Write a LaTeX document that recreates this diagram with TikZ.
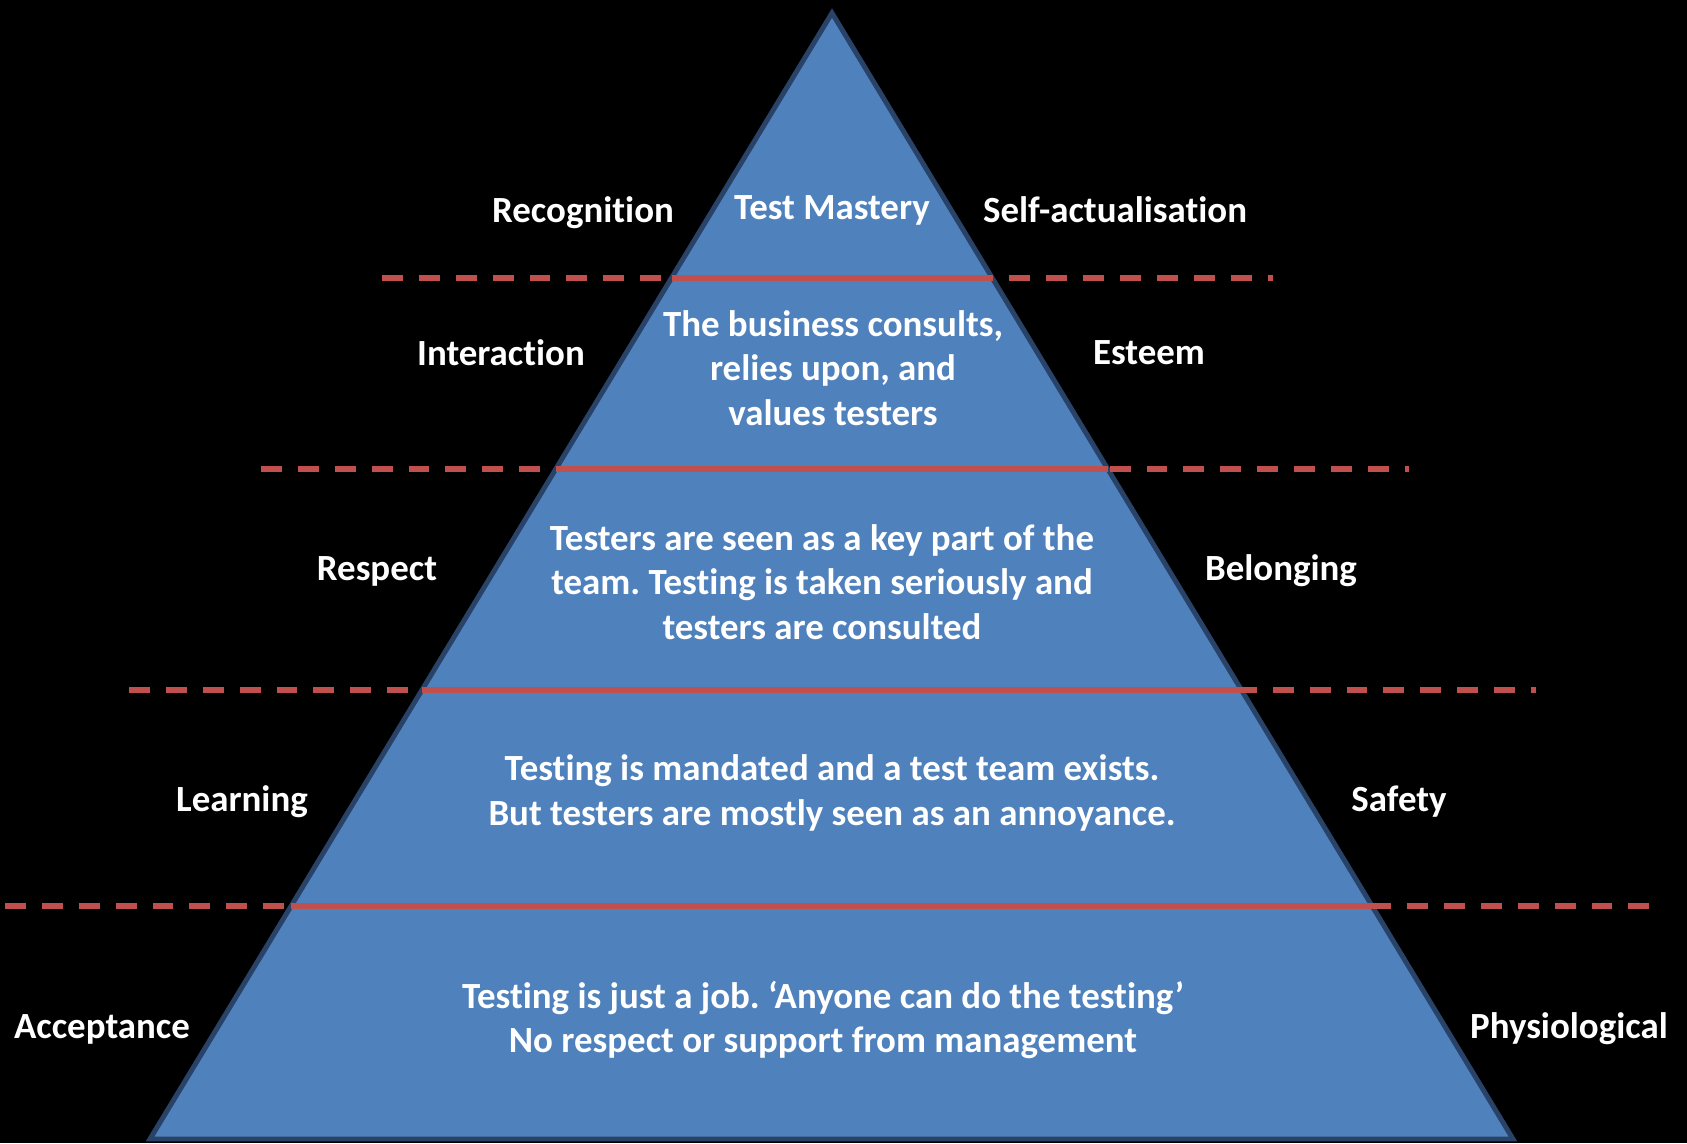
\documentclass[tikz,border=0pt]{standalone}
\usepackage{fontspec}
\setmainfont{Carlito}[Ligatures=NoCommon]
\usepackage{tikz}
\usetikzlibrary{calc}

\definecolor{pyrblue}{RGB}{79,129,189}
\definecolor{pyredge}{RGB}{40,66,104}
\definecolor{pyrred}{RGB}{192,80,77}

\begin{document}
\frenchspacing
\begin{tikzpicture}[x=0.02cm, y=-0.02cm, line width=2.8pt,
  stage/.style={text=white, font=\fontsize{21}{25.5}\selectfont\bfseries, align=center},
  need/.style={stage},
  level/.style={color=pyrred, line width=3.2pt},
  levelgap/.style={level, dash pattern=on 11.9pt off 9.1pt}]

% draw black background
\fill[black] (0,0) rectangle (1687,1143);
\useasboundingbox (0,0) rectangle (1687,1143);

% draw pyramid
\coordinate (apex) at (832,13);
\coordinate (baseleft) at (150,1139);
\coordinate (baseright) at (1513,1139);
\filldraw[fill=pyrblue, draw=pyredge] (apex) -- (baseleft) -- (baseright) -- cycle;

% draw level lines, dashed outside and solid inside
\foreach \y/\xa/\xb in {278/382/1273, 469/261/1409, 690/129/1536, 906/5/1649} {
  \pgfmathsetmacro\t{(\y-13)/1126}
  \draw[levelgap] (\xa,\y) -- (\xb,\y);
  \draw[level] ($(apex)!\t!(baseleft)$) -- ($(apex)!\t!(baseright)$);
}

% draw stage texts
\node[stage] (mastery) at (832,210) {Test Mastery};
\node[stage] (consults) at (833,368) {The business consults,\\ relies upon, and\\ values testers};
\node[stage] (keypart) at (822,582) {Testers are seen as a key part of the\\ team. Testing is taken seriously and\\ testers are consulted};
\node[stage] (mandated) at (832,793) {Testing is mandated and a test team exists.\\ But testers are mostly seen as an annoyance.};
\node[stage] (justjob) at (823,1020) {Testing is just a job. ‘Anyone can do the testing’\\ No respect or support from management};

% draw left labels
\node[need] (recognition) at (583,213) {Recognition};
\node[need] (interaction) at (501,353) {Interaction};
\node[need] (respect) at (377,571) {Respect};
\node[need] (learning) at (242,802) {Learning};
\node[need] (acceptance) at (102,1029) {Acceptance};

% draw right labels
\node[need] (selfact) at (1115,210) {Self-actualisation};
\node[need] (esteem) at (1149,353) {Esteem};
\node[need] (belonging) at (1281,571) {Belonging};
\node[need] (safety) at (1399,802) {Safety};
\node[need] (physio) at (1569,1029) {Physiological};

\end{tikzpicture}
\end{document}
